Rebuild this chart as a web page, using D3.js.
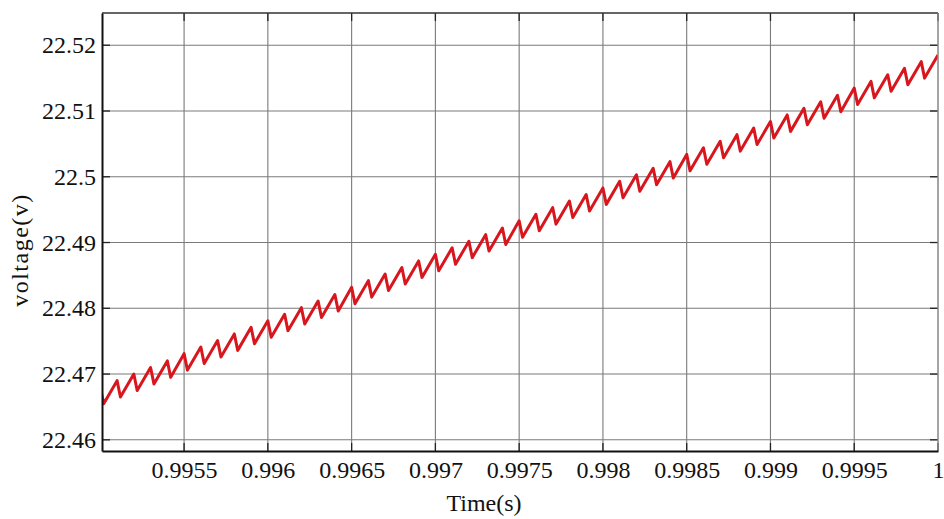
<!DOCTYPE html>
<html>
<head>
<meta charset="utf-8">
<script src="https://cdn.jsdelivr.net/npm/d3@7"></script>
<style>
  html, body { margin: 0; padding: 0; background: #fff; }
  svg { display: block; }
  text { font-family: "Liberation Serif", "Times New Roman", serif; fill: #111; }
</style>
</head>
<body>
<svg id="chart" width="944" height="519"></svg>
<script>
// Output voltage ripple: peak (start of each discharge) and trough samples
const peakTime = [
  0.9950, 0.9951, 0.9952, 0.9953, 0.9954, 0.9955, 0.9956, 0.9957, 0.9958, 0.9959,
  0.9960, 0.9961, 0.9962, 0.9963, 0.9964, 0.9965, 0.9966, 0.9967, 0.9968, 0.9969,
  0.9970, 0.9971, 0.9972, 0.9973, 0.9974, 0.9975, 0.9976, 0.9977, 0.9978, 0.9979,
  0.9980, 0.9981, 0.9982, 0.9983, 0.9984, 0.9985, 0.9986, 0.9987, 0.9988, 0.9989,
  0.9990, 0.9991, 0.9992, 0.9993, 0.9994, 0.9995, 0.9996, 0.9997, 0.9998, 0.9999,
  1.0000
];
const peakVolt = [
  22.4680, 22.4690, 22.4700, 22.4710, 22.4720, 22.4731, 22.4741, 22.4751, 22.4761, 22.4771,
  22.4781, 22.4791, 22.4801, 22.4811, 22.4821, 22.4832, 22.4842, 22.4852, 22.4862, 22.4872,
  22.4882, 22.4892, 22.4902, 22.4912, 22.4922, 22.4933, 22.4943, 22.4953, 22.4963, 22.4973,
  22.4983, 22.4993, 22.5003, 22.5013, 22.5023, 22.5034, 22.5044, 22.5054, 22.5064, 22.5074,
  22.5084, 22.5094, 22.5104, 22.5114, 22.5124, 22.5135, 22.5145, 22.5155, 22.5165, 22.5175,
  22.5185
];
const troughTime = [
  0.99502, 0.99512, 0.99522, 0.99532, 0.99542, 0.99552, 0.99562, 0.99572, 0.99582, 0.99592,
  0.99602, 0.99612, 0.99622, 0.99632, 0.99642, 0.99652, 0.99662, 0.99672, 0.99682, 0.99692,
  0.99702, 0.99712, 0.99722, 0.99732, 0.99742, 0.99752, 0.99762, 0.99772, 0.99782, 0.99792,
  0.99802, 0.99812, 0.99822, 0.99832, 0.99842, 0.99852, 0.99862, 0.99872, 0.99882, 0.99892,
  0.99902, 0.99912, 0.99922, 0.99932, 0.99942, 0.99952, 0.99962, 0.99972, 0.99982, 0.99992
];
const troughVolt = [
  22.4655, 22.4665, 22.4675, 22.4685, 22.4695, 22.4706, 22.4716, 22.4726, 22.4736, 22.4746,
  22.4756, 22.4766, 22.4776, 22.4786, 22.4796, 22.4807, 22.4817, 22.4827, 22.4837, 22.4847,
  22.4857, 22.4867, 22.4877, 22.4887, 22.4897, 22.4908, 22.4918, 22.4928, 22.4938, 22.4948,
  22.4958, 22.4968, 22.4978, 22.4988, 22.4998, 22.5009, 22.5019, 22.5029, 22.5039, 22.5049,
  22.5059, 22.5069, 22.5079, 22.5089, 22.5099, 22.5110, 22.5120, 22.5130, 22.5140, 22.5150
];

const xTicks = [0.9955, 0.996, 0.9965, 0.997, 0.9975, 0.998, 0.9985, 0.999, 0.9995, 1];
const xTickLabels = ["0.9955", "0.996", "0.9965", "0.997", "0.9975", "0.998", "0.9985", "0.999", "0.9995", "1"];
const yTicks = [22.46, 22.47, 22.48, 22.49, 22.5, 22.51, 22.52];
const yTickLabels = ["22.46", "22.47", "22.48", "22.49", "22.5", "22.51", "22.52"];

// interleave peaks and troughs into one polyline
const points = [];
peakTime.forEach((t, i) => {
  points.push([t, peakVolt[i]]);
  if (i < troughTime.length) points.push([troughTime[i], troughVolt[i]]);
});

const svg = d3.select("#chart");
const L = 102, R = 938, T = 13, B = 451;

const x = d3.scaleLinear().domain([0.99501, 1]).range([L, R]);
const y = d3.scaleLinear().domain([22.4583, 22.5249]).range([B, T]);

// grid
const grid = svg.append("g").attr("stroke", "#7a7a7a").attr("stroke-width", 1.1);
xTicks.forEach(v => grid.append("line")
  .attr("x1", x(v)).attr("x2", x(v)).attr("y1", T).attr("y2", B));
yTicks.forEach(v => grid.append("line")
  .attr("x1", L).attr("x2", R).attr("y1", y(v)).attr("y2", y(v)));

// inward ticks on all four sides
const tk = svg.append("g").attr("stroke", "#222").attr("stroke-width", 1.3);
xTicks.forEach(v => {
  tk.append("line").attr("x1", x(v)).attr("x2", x(v)).attr("y1", B).attr("y2", B - 8);
  tk.append("line").attr("x1", x(v)).attr("x2", x(v)).attr("y1", T).attr("y2", T + 8);
});
yTicks.forEach(v => {
  tk.append("line").attr("x1", L).attr("x2", L + 8).attr("y1", y(v)).attr("y2", y(v));
  tk.append("line").attr("x1", R).attr("x2", R - 8).attr("y1", y(v)).attr("y2", y(v));
});

// series
svg.append("clipPath").attr("id", "plotClip")
  .append("rect").attr("x", L).attr("y", T).attr("width", R - L).attr("height", B - T);

svg.append("path")
  .datum(points)
  .attr("clip-path", "url(#plotClip)")
  .attr("fill", "none")
  .attr("stroke", "#d8161e")
  .attr("stroke-width", 3)
  .attr("stroke-linejoin", "round")
  .attr("d", d3.line().x(d => x(d[0])).y(d => y(d[1])));

// frame
svg.append("line").attr("x1", L).attr("x2", R).attr("y1", T).attr("y2", T)
  .attr("stroke", "#333").attr("stroke-width", 1.6);
svg.append("line").attr("x1", R).attr("x2", R).attr("y1", T).attr("y2", B)
  .attr("stroke", "#999").attr("stroke-width", 1.2);

// axes
const xAxis = d3.axisBottom(x).tickValues(xTicks)
  .tickFormat((d, i) => xTickLabels[i]).tickSize(0).tickPadding(10);
const gx = svg.append("g").attr("transform", `translate(0,${B})`).call(xAxis);
gx.select(".domain").attr("stroke", "#111").attr("stroke-width", 2);
gx.selectAll("text").attr("font-size", 24).attr("fill", "#111")
  .attr("font-family", "Liberation Serif, serif");

const yAxis = d3.axisLeft(y).tickValues(yTicks)
  .tickFormat((d, i) => yTickLabels[i]).tickSize(0).tickPadding(6);
const gy = svg.append("g").attr("transform", `translate(${L},0)`).call(yAxis);
gy.select(".domain").attr("stroke", "#111").attr("stroke-width", 2);
gy.selectAll("text").attr("font-size", 24).attr("fill", "#111")
  .attr("font-family", "Liberation Serif, serif");

// axis titles
svg.append("text").attr("x", 484).attr("y", 511)
  .attr("text-anchor", "middle").attr("font-size", 24).text("Time(s)");
svg.append("text").attr("transform", "translate(28,250) rotate(-90)")
  .attr("text-anchor", "middle").attr("font-size", 24).attr("letter-spacing", 1.5)
  .text("voltage(v)");
</script>
</body>
</html>
